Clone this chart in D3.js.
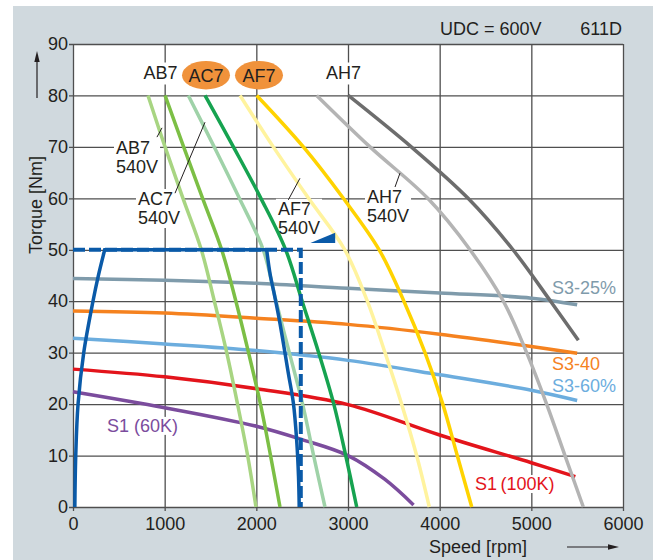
<!DOCTYPE html>
<head>
<meta charset="utf-8">
<style>
body {
  margin: 0;
  background: #fff;
}
svg {
  display: block;
  font-family: "Liberation Sans", Arial, Helvetica, sans-serif;
}
.curve {
  fill: none;
  stroke-width: 3.5px;
}
.lbl {
  font-size: 18px;
  fill: #231f20;
}
.leader {
  stroke: #231f20;
  stroke-width: 1px;
}
</style>
</head>
<body>
<script src="https://d3js.org/d3.v7.min.js"></script>
<script>
// axis ticks
var speedTicks = [0, 1000, 2000, 3000, 4000, 5000, 6000];
var torqueTicks = [0, 10, 20, 30, 40, 50, 60, 70, 80, 90];

// motor limit curves [speed rpm, torque Nm]
var ab7_540 = [[818,80],[1004,70],[1200,60],[1400,50],[1542,40],[1677,30],[1795,20],[1905,10],[1996,0]];
var ab7_600 = [[1004,80],[1207,70],[1414,60],[1622,50],[1777,40],[1915,30],[2045,20],[2155,10],[2258,0]];
var ac7_540 = [[1258,80],[1540,70],[1815,60],[2075,50],[2215,40],[2360,30],[2505,20],[2625,10],[2749,0]];
var ac7_600 = [[1440,80],[1750,70],[2050,60],[2320,50],[2500,40],[2680,30],[2845,20],[2975,10],[3095,0]];
var af7_540 = [[1822,80],[2185,70],[2570,60],[2965,50],[3211,40],[3404,30],[3585,20],[3749,10],[3887,0]];
var af7_600 = [[2004,80],[2513,70],[2949,60],[3340,50],[3610,40],[3840,30],[4034,20],[4192,10],[4350,0]];
var ah7_540 = [[2658,80],[3240,70],[3870,60],[4331,50],[4695,40],[4949,30],[5167,20],[5367,10],[5567,0]];
var ah7_600 = [[3003,80],[3690,70],[4310,60],[4800,50],[5210,40],[5513,32.4]];

// thermal curves
var s3_25 = [[0,44.4],[1000,44.1],[2000,43.5],[3000,42.5],[4000,41.6],[5000,40.6],[5500,39.3]];
var s3_40 = [[0,38.1],[1000,37.7],[2000,36.7],[3000,35.5],[4000,33.6],[5000,31.2],[5500,29.9]];
var s3_60 = [[0,32.8],[1000,31.7],[2000,30.4],[3000,28.5],[4000,25.7],[5000,22.7],[5500,20.7]];
var s1_100 = [[0,26.8],[1000,25.3],[2000,23.0],[3000,19.9],[4000,14.0],[5000,8.6],[5480,5.9]];
var s1_60 = [[0,22.4],[1000,19.3],[2000,15.7],[2500,13.1],[3000,10.0],[3400,5.4],[3715,0.4]];

// drive (blue) curves
var driveUp = [[20,0],[30,10],[55,20],[117,30],[218,40],[273,44.7],[346,50]];
var driveDown = [[2113,50],[2149,45.4],[2200,41],[2258,35.7],[2349,26],[2404,20.2],[2440,13],[2460,6],[2468,0]];
var driveDashed = [[0,50],[2485,50],[2485,0]];
var driveMark = [[2590,51.3],[2860,53.3],[2860,51.3]];

(function() {
	var W = 653,
		H = 560;

	var x = d3.scaleLinear().domain([0, 6000]).range([73, 623]);
	var y = d3.scaleLinear().domain([0, 90]).range([507, 44]);
	var pw = x(6000) - x(0),
		ph = y(0) - y(90);

	var svg = d3.select("body").append("svg")
		.attr("width", W)
		.attr("height", H);

	// panel + plot background
	svg.append("rect").attr("x", 13).attr("y", 6)
		.attr("width", W - 13).attr("height", H - 6)
		.attr("fill", "#d0d9de");
	svg.append("rect").attr("x", x(0)).attr("y", y(90))
		.attr("width", pw).attr("height", ph)
		.attr("fill", "#fff");

	//
	// grid + axes
	//
	var gx = svg.append("g")
		.attr("transform", "translate(0," + y(0) + ")")
		.call(d3.axisBottom(x).tickValues(speedTicks).tickSizeInner(-ph).tickSizeOuter(0)
			.tickPadding(10).tickFormat(d3.format("d")));
	var gy = svg.append("g")
		.attr("transform", "translate(" + x(0) + ",0)")
		.call(d3.axisLeft(y).tickValues(torqueTicks).tickSizeInner(-pw).tickSizeOuter(0)
			.tickPadding(5).tickFormat(d3.format("d")));
	[gx, gy].forEach(function(g) {
		g.select(".domain").remove();
		g.attr("font-size", 18).attr("font-family", null).attr("color", "#231f20");
		g.selectAll(".tick line").attr("stroke", "#4f4f4f").attr("stroke-width", 1.3);
	});
	gx.selectAll(".tick line").attr("y1", 4);
	gy.selectAll(".tick line").attr("x1", -4);

	// axis titles + arrows
	svg.append("text").attr("class", "lbl")
		.attr("transform", "translate(42,205) rotate(-90)")
		.attr("text-anchor", "middle")
		.text("Torque [Nm]");
	svg.append("line").attr("x1", 37).attr("y1", 98).attr("x2", 37).attr("y2", 58)
		.attr("stroke", "#231f20").attr("stroke-width", 1.2);
	svg.append("path").attr("d", "M37,51L34.3,62L39.7,62Z").attr("fill", "#231f20");

	svg.append("text").attr("class", "lbl")
		.attr("x", 478).attr("y", 553)
		.attr("text-anchor", "middle")
		.text("Speed [rpm]");
	svg.append("line").attr("x1", 567).attr("y1", 547).attr("x2", 610).attr("y2", 547)
		.attr("stroke", "#231f20").attr("stroke-width", 1.2);
	svg.append("path").attr("d", "M619,547L608,544.3L608,549.7Z").attr("fill", "#231f20");

	svg.append("text").attr("class", "lbl").attr("x", 440).attr("y", 35).text("UDC = 600V");
	svg.append("text").attr("class", "lbl").attr("x", 622).attr("y", 35)
		.attr("text-anchor", "end").text("611D");

	//
	// labels with white backing (hide the grid under the text)
	//
	function label(sx, st, lines, color, pad, anchor) {
		var g = svg.append("g");
		var t = g.append("text").attr("class", "lbl")
			.attr("x", x(sx)).attr("y", y(st))
			.attr("text-anchor", anchor || "start");
		if (color) t.style("fill", color);
		lines.forEach(function(s, i) {
			t.append("tspan").attr("x", x(sx)).attr("dy", i ? 19 : 0).text(s);
		});
		var b = t.node().getBBox();
		g.insert("rect", "text")
			.attr("x", b.x - pad).attr("y", b.y + 2 - pad)
			.attr("width", b.width + 2 * pad).attr("height", b.height - 4 + 2 * pad)
			.attr("fill", "#fff");
		return t;
	}

	label(955, 83.1, ["AB7"], null, 3, "middle");
	label(2951, 83.1, ["AH7"], null, 3, "middle");

	[[1451, "AC7"], [2029, "AF7"]].forEach(function(d) {
		svg.append("ellipse").attr("cx", x(d[0])).attr("cy", 75.2)
			.attr("rx", 24).attr("ry", 14.2).attr("fill", "#f0923b");
		svg.append("text").attr("class", "lbl").attr("x", x(d[0])).attr("y", 81.7)
			.attr("text-anchor", "middle").text(d[1]);
	});

	label(469, 68.6, ["AB7", "540V"], null, 2);
	label(709, 58.7, ["AC7", "540V"], null, 2);
	label(2236, 56.8, ["AF7", "540V"], null, 2);
	label(3207, 59.0, ["AH7", "540V"], null, 2);

	label(5225, 41.4, ["S3-25%"], "#7f9bab", 1);
	label(5225, 26.6, ["S3-40"], "#f5821f", 1);
	label(5225, 22.3, ["S3-60%"], "#6cadde", 1);
	label(4385, 3.3, ["S1\u2009(100K)"], "#e3141b", 1);
	label(371, 14.6, ["S1 (60K)"], "#7b4c9d", 1);

	//
	// curves
	//
	var line = d3.line()
		.x(function(d) { return x(d[0]); })
		.y(function(d) { return y(d[1]); })
		.curve(d3.curveCatmullRom.alpha(0.5));
	var straight = d3.line()
		.x(function(d) { return x(d[0]); })
		.y(function(d) { return y(d[1]); });

	var curves = [
		[s3_25, "#7f9bab"], [s3_40, "#f5821f"], [s3_60, "#6cadde"],
		[s1_100, "#e3141b"], [s1_60, "#7b4c9d"],
		[ab7_540, "#a8d582"], [ab7_600, "#7cbf45"],
		[ac7_540, "#9fd2a8"], [ac7_600, "#16a350"],
		[af7_540, "#fff39e"], [af7_600, "#ffd300"],
		[ah7_540, "#b4b4b4"], [ah7_600, "#6d6d6d"]
	];
	svg.selectAll("path.curve.m").data(curves).enter()
		.append("path").attr("class", "curve m")
		.attr("d", function(d) { return line(d[0]); })
		.style("stroke", function(d) { return d[1]; });

	svg.append("path").attr("class", "curve")
		.attr("d", straight(driveDashed))
		.style("stroke", "#0a5aa8").style("stroke-width", "4px")
		.style("stroke-dasharray", "12,4");
	// rising edge, flat top, falling edge as one path
	svg.append("path").attr("class", "curve")
		.attr("d", line(driveUp) + "L" + line(driveDown).slice(1))
		.style("stroke", "#0a5aa8");
	svg.append("path")
		.attr("d", straight(driveMark) + "Z")
		.attr("fill", "#0a5aa8");

	// leader lines
	var leaders = [
		[[916,71.9],[971,73.7]],
		[[1113,61.0],[1440,74.8]],
		[[2349,59.7],[2476,63.9]],
		[[3513,62.2],[3567,64.9]]
	];
	svg.selectAll("line.leader").data(leaders).enter()
		.append("line").attr("class", "leader")
		.attr("x1", function(d) { return x(d[0][0]); })
		.attr("y1", function(d) { return y(d[0][1]); })
		.attr("x2", function(d) { return x(d[1][0]); })
		.attr("y2", function(d) { return y(d[1][1]); });
})();
</script>
</body>
